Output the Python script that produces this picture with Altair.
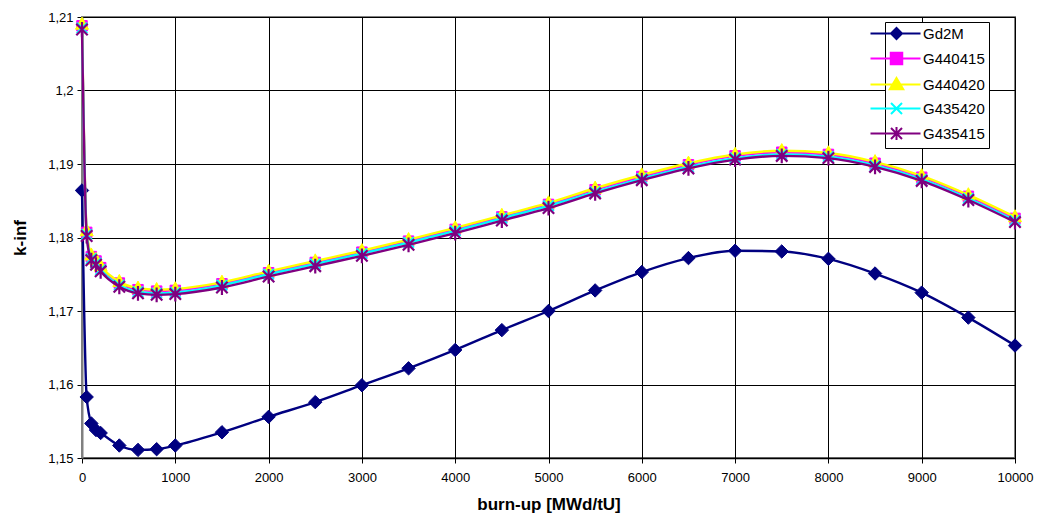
import altair as alt
import pandas as pd

burnup = [0, 50, 100, 150, 200, 400, 600, 800, 1000, 1500, 2000, 2500, 3000, 3500,
          4000, 4500, 5000, 5500, 6000, 6500, 7000, 7500, 8000, 8500, 9000, 9500, 10000]

gd2m = [1.1864, 1.1583, 1.1547, 1.1538, 1.1534, 1.1517, 1.1511, 1.1512, 1.1517, 1.1535,
        1.1556, 1.1576, 1.1599, 1.1622, 1.1647, 1.1674, 1.1700, 1.1728, 1.1753, 1.1772,
        1.1782, 1.1781, 1.1771, 1.1751, 1.1725, 1.1691, 1.1653]
g440415 = [1.2088, 1.1807, 1.1774, 1.1768, 1.1759, 1.1738, 1.1729, 1.1727, 1.1728, 1.1737,
           1.1752, 1.1766, 1.1780, 1.1795, 1.1811, 1.1828, 1.1845, 1.1865, 1.1883, 1.1899,
           1.1911, 1.1916, 1.1913, 1.1901, 1.1882, 1.1856, 1.1826]
g440420 = [1.2090, 1.1809, 1.1776, 1.1770, 1.1761, 1.1740, 1.1731, 1.1729, 1.1730, 1.1739,
           1.1754, 1.1768, 1.1782, 1.1797, 1.1813, 1.1830, 1.1847, 1.1867, 1.1885, 1.1901,
           1.1913, 1.1918, 1.1915, 1.1903, 1.1884, 1.1858, 1.1828]
g435420 = [1.2085, 1.1804, 1.1771, 1.1765, 1.1756, 1.1735, 1.1726, 1.1724, 1.1725, 1.1735,
           1.1750, 1.1764, 1.1778, 1.1793, 1.1809, 1.1826, 1.1843, 1.1862, 1.1880, 1.1896,
           1.1908, 1.1913, 1.1910, 1.1898, 1.1879, 1.1853, 1.1823]
g435415 = [1.2083, 1.1802, 1.1769, 1.1763, 1.1754, 1.1733, 1.1724, 1.1722, 1.1723, 1.1732,
           1.1747, 1.1761, 1.1775, 1.1790, 1.1806, 1.1823, 1.1840, 1.1860, 1.1878, 1.1894,
           1.1906, 1.1911, 1.1908, 1.1896, 1.1877, 1.1851, 1.1821]

series_names = ["Gd2M", "G440415", "G440420", "G435420", "G435415"]
series_values = [gd2m, g440415, g440420, g435420, g435415]
series_colors = ["#000080", "#FF00FF", "#FFFF00", "#00FFFF", "#800080"]

x_ticks = [0, 1000, 2000, 3000, 4000, 5000, 6000, 7000, 8000, 9000, 10000]
y_ticks = [1.15, 1.16, 1.17, 1.18, 1.19, 1.20, 1.21]

# marker shapes (unit paths)
marker_paths = [
    "M-1,0L0,-1L1,0L0,1Z",
    "M-1,-1L1,-1L1,1L-1,1Z",
    "M0,-1.1L1,0.75L-1,0.75Z",
    "M-1,-1L1,1M-1,1L1,-1",
    "M-1,-1L1,1M-1,1L1,-1M0,-1.3L0,1.3",
]
marker_sizes = [180, 110, 170, 110, 130]
marker_filled = [True, True, True, False, False]

# legend symbols: line segment + marker (symbol size 100 -> unit = 5 px)
legend_paths = [
    "M-5.2,0L4.8,0M-1.1,0L0,-1.1L1.1,0L0,1.1Z",
    "M-5.2,0L4.8,0M-1.15,-1.15L1.15,-1.15L1.15,1.15L-1.15,1.15Z",
    "M-5.2,0L4.8,0M0,-1.3L1.35,0.95L-1.35,0.95Z",
    "M-5.2,0L4.8,0M-1.1,-1.1L1.1,1.1M-1.1,1.1L1.1,-1.1",
    "M-5.2,0L4.8,0M-1.1,-1.1L1.1,1.1M-1.1,1.1L1.1,-1.1M0,-1.3L0,1.3",
]

rows = []
for name, vals in zip(series_names, series_values):
    for b, v in zip(burnup, vals):
        rows.append({"burnup": b, "kinf": v, "series": name})
df = pd.DataFrame(rows)

FONT = "Liberation Sans"

x_enc = alt.X(
    "burnup:Q",
    scale=alt.Scale(domain=[0, 10000], nice=False),
    axis=alt.Axis(
        values=x_ticks, format="d", title="burn-up [MWd/tU]",
        grid=True, gridColor="#000000", gridWidth=1,
        domainColor="#000000", domainWidth=1.5,
        tickColor="#000000", tickSize=5, labelPadding=8,
        labelFont=FONT, labelFontSize=13, labelColor="#000000",
        titleFont=FONT, titleFontSize=17, titleFontWeight="bold",
        titleColor="#000000", titlePadding=12, labelFlush=False,
    ),
)
y_enc = alt.Y(
    "kinf:Q",
    scale=alt.Scale(domain=[1.15, 1.21], nice=False, zero=False),
    axis=alt.Axis(
        values=y_ticks, title="k-inf",
        labelExpr="replace(format(datum.value, '.2~f'), '.', ',')",
        grid=True, gridColor="#000000", gridWidth=1,
        domainColor="#808080", domainWidth=2,
        tickColor="#000000", tickSize=5, labelPadding=4,
        labelFont=FONT, labelFontSize=13, labelColor="#000000",
        titleFont=FONT, titleFontSize=17, titleFontWeight="bold",
        titleColor="#000000", titlePadding=18, labelFlush=False,
    ),
)

base = alt.Chart(df).encode(x=x_enc, y=y_enc)

layers = []
for name, color, mpath, msize, mfilled in zip(series_names, series_colors, marker_paths,
                                             marker_sizes, marker_filled):
    sub = base.transform_filter(alt.datum.series == name)
    line = sub.mark_line(color=color, strokeWidth=2.4, interpolate="monotone")
    if mfilled:
        pts = sub.mark_point(shape=mpath, size=msize, fill=color, stroke=color,
                             strokeWidth=1, opacity=1, filled=True)
    else:
        pts = sub.mark_point(shape=mpath, size=msize, stroke=color, strokeWidth=2.2,
                             opacity=1, filled=False)
    layers.append(line)
    layers.append(pts)

leg = dict(
    title=None, orient="none", legendX=803, legendY=5,
    symbolSize=100, symbolStrokeWidth=2,
    labelFont=FONT, labelFontSize=15, labelColor="#000000", labelOffset=19,
    padding=4, strokeColor="#000000", fillColor="#ffffff", rowPadding=5,
)

legend_layer = alt.Chart(df).transform_filter("false").mark_point(
    opacity=1, strokeWidth=2, size=100
).encode(
    fill=alt.Fill("series:N", scale=alt.Scale(domain=series_names, range=series_colors),
                  legend=alt.Legend(**leg)),
    stroke=alt.Stroke("series:N", scale=alt.Scale(domain=series_names, range=series_colors),
                      legend=alt.Legend(**leg)),
    shape=alt.Shape("series:N", scale=alt.Scale(domain=series_names, range=legend_paths),
                    legend=alt.Legend(**leg)),
)

chart = alt.layer(*layers, legend_layer).properties(
    width=933, height=441,
    padding={"left": 82, "top": 17, "right": 26, "bottom": 70},
    autosize=alt.AutoSizeParams(type="none"),
    background="#ffffff",
).configure_view(stroke="#808080", strokeWidth=2)

chart.save("out.html", embed_options={"renderer": "svg", "actions": False})
